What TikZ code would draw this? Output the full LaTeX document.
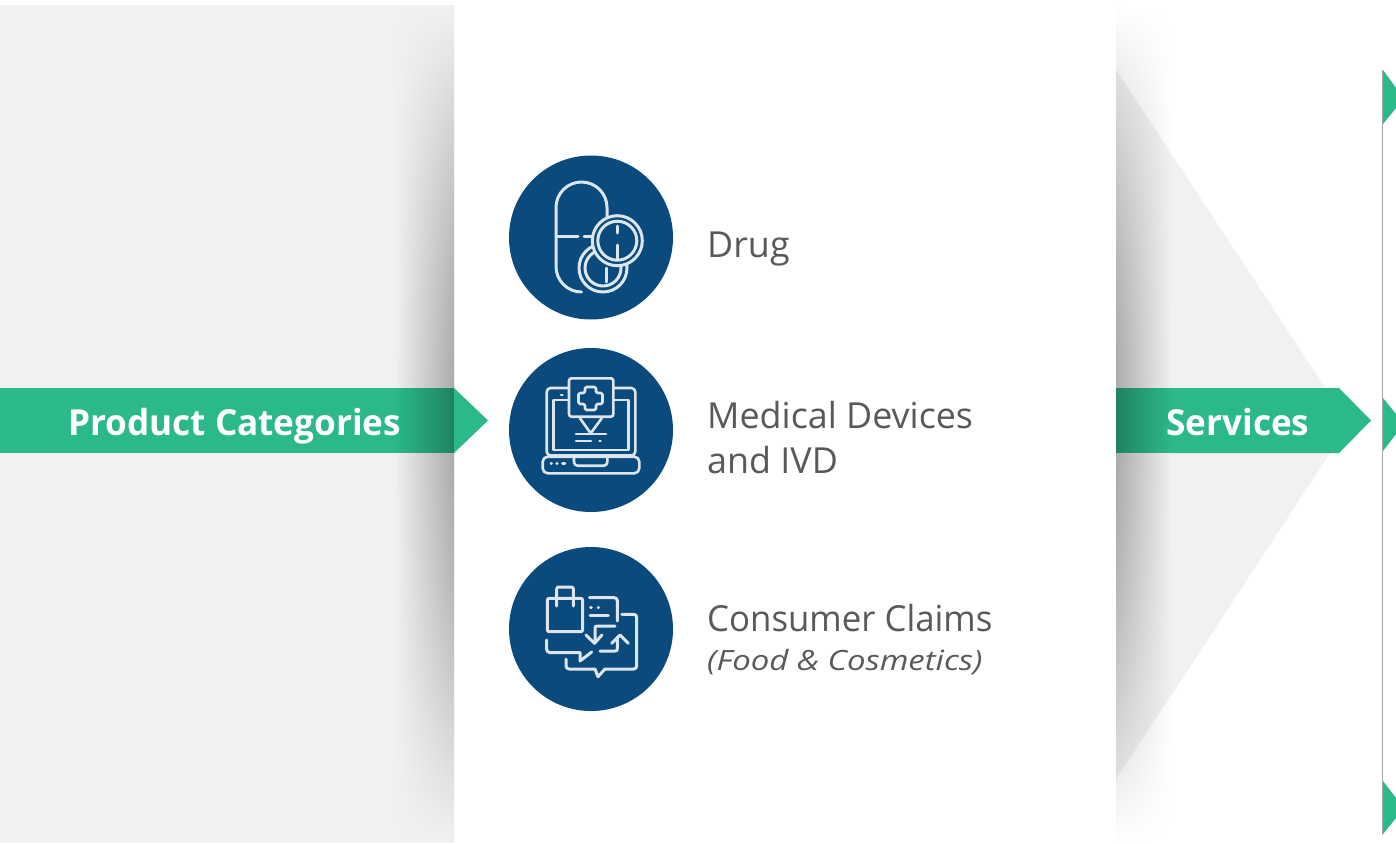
\documentclass[tikz,border=0pt]{standalone}
\usepackage{fontspec}
\setmainfont{Open Sans}
\newfontfamily\lblfont{Open Sans}
\newfontfamily\lblnarrow[FakeStretch=0.97]{Open Sans}
\newfontfamily\subfont[FakeStretch=1.18]{Open Sans}
\newfontfamily\headfont[FakeStretch=0.98,BoldFont={Open Sans Bold}]{Open Sans}
\definecolor{grn}{HTML}{2BB987}
\definecolor{navy}{HTML}{0A4A7D}
\definecolor{pale}{HTML}{F1F1F1}
\definecolor{txt}{HTML}{595959}
\definecolor{ico}{HTML}{DDE6EE}
\newcommand{\stripsL}[3]{%
  \foreach \yy in {5,7,...,839} {
    \pgfmathsetmacro\aa{29*sin((\yy-5)*0.2148)}
    \pgfmathsetmacro\pp{100-\aa}
    \pgfmathsetmacro\qq{100-\aa*0.22}
    \shade[left color=#3,middle color=#3!\qq!black,right color=#3!\pp!black] (#1,\yy) rectangle (#2,\yy+2.6);
  }}
\newcommand{\stripsR}[3]{%
  \foreach \yy in {5,7,...,839} {
    \pgfmathsetmacro\aa{29*sin((\yy-5)*0.2148)}
    \pgfmathsetmacro\pp{100-\aa}
    \pgfmathsetmacro\qq{100-\aa*0.22}
    \shade[right color=#3,middle color=#3!\qq!black,left color=#3!\pp!black] (#1,\yy) rectangle (#2,\yy+2.6);
  }}
\tikzset{
  band/.style={fill=grn,draw=none},
  disc/.style={circle,fill=navy,draw=none,minimum size=164bp,inner sep=0pt},
  lbl/.style={anchor=base west,inner sep=0pt,text=txt,font=\lblfont\fontsize{36}{44}\selectfont},
  lblb/.style={anchor=base west,inner sep=0pt,text=txt,font=\lblnarrow\fontsize{36}{44}\selectfont},
  sublbl/.style={anchor=base west,inner sep=0pt,text=txt,font=\subfont\itshape\fontsize{28}{34}\selectfont},
  head/.style={anchor=base west,inner sep=0pt,text=white,font=\headfont\bfseries\fontsize{36}{44}\selectfont},
  icon/.style={draw=ico,line width=3bp,line cap=round,line join=round},
  iconthin/.style={draw=ico,line width=2.6bp,line cap=round,line join=round},
}
\begin{document}
\begin{tikzpicture}[x=1bp,y=-1bp]
\useasboundingbox (0,0) rectangle (1396,843);
\fill[white] (0,0) rectangle (1396,843);
% left panel and its shadow
\fill[pale] (0,5) rectangle (454,843);
\stripsL{394}{454}{pale}
\fill[band] (0,388) rectangle (394.5,453);
\begin{scope}
  \clip (394,388) rectangle (454,452.5);
  \stripsL{394}{454}{grn}
\end{scope}
% right shadow on white
\stripsR{1116}{1172}{white}
% triangle
\fill[pale] (1171.5,154) -- (1349,424) -- (1171.5,695) -- cycle;
\begin{scope}
  \clip (1116,70) -- (1349,424) -- (1116,779) -- cycle;
  \stripsR{1116}{1172}{pale}
\end{scope}
% services arrow
\fill[band] (1171.5,388) -- (1339,388) -- (1371,420.5) -- (1339,453) -- (1171.5,453) -- cycle;
\begin{scope}
  \clip (1116,388) rectangle (1172,452.5);
  \stripsR{1116}{1172}{grn}
\end{scope}
% tip over white panel
\fill[band] (454,388) -- (488,420.5) -- (454,453) -- cycle;
% right rule and clipped arrows
\draw[draw=black!35,line width=1bp] (1382.5,70) -- (1382.5,835);
\fill[band] (1383,70) -- (1396,88) -- (1396,108) -- (1383,124) -- cycle;
\fill[band] (1383,398) -- (1396,414) -- (1396,434) -- (1383,451) -- cycle;
\fill[band] (1383,781) -- (1396,798) -- (1396,818) -- (1383,834) -- cycle;
% heads
\node[head] (pc) at (68,435) {Product Categories};
\node[head] (sv) at (1166,435) {Services};
% discs
\node[disc] (d1) at (591,237.5) {};
\node[disc] (d2) at (591,430) {};
\node[disc] (d3) at (591,629) {};
% icon 1: capsule
\draw[icon] (607,220) -- (607,207.5) arc[start angle=0,end angle=-180,radius=25.5] -- (556,266.5) arc[start angle=180,end angle=90,radius=25.5];
\draw[icon] (556,236) -- (578,236) (584,236) -- (592,236);
\filldraw[icon,fill=navy] (603,268) circle[radius=24];
\draw[icon] (603,268) circle[radius=18];
\draw[icon] (606,268) -- (606,282);
\filldraw[icon,fill=navy] (617.3,240.7) circle[radius=25];
\draw[icon] (617.3,240.7) circle[radius=19.5];
\draw[icon] (617.3,226) -- (617.3,233) (617.3,245) -- (617.3,259);
% icon 2: laptop
\draw[iconthin,rounded corners=4bp] (546.7,388) rectangle (635.3,455.5);
\draw[iconthin] (553.3,400) -- (628.3,400) -- (628.3,450) -- (553.3,450) -- cycle;
\filldraw[iconthin,fill=navy,rounded corners=2.5bp] (569,378.3) rectangle (613.3,416.7);
\draw[iconthin,rounded corners=1.5bp] (585,387) -- (596,387) -- (596,393) -- (602.5,393) -- (602.5,404) -- (596,404) -- (596,410) -- (585,410) -- (585,404) -- (578.5,404) -- (578.5,393) -- (585,393) -- cycle;
\draw[iconthin] (580,418.3) -- (590.7,433.3) -- (601.7,418.3);
\draw[iconthin] (576,434) -- (606,434);
\draw[iconthin] (576,441) -- (591,441) (599.5,441) -- (600.5,441);
\draw[iconthin] (561,395) -- (562.5,395);
\filldraw[iconthin,fill=navy,rounded corners=5bp] (542.7,456.7) rectangle (639.3,473.3);
\draw[iconthin,rounded corners=3.5bp] (574,456.7) -- (574,465.7) -- (607.3,465.7) -- (607.3,456.7);
\draw[iconthin] (551,463.3) -- (551.5,463.3) (556.7,463.3) -- (557.2,463.3) (562.5,463.3) -- (565,463.3);
% icon 3: bag and chats
\draw[icon,rounded corners=2bp] (547.3,598.3) rectangle (582.7,631.7);
\draw[icon,rounded corners=2bp] (556.7,606) -- (556.7,587) -- (573.3,587) -- (573.3,606);
\draw[icon,rounded corners=3bp] (589.5,597.7) -- (617.3,597.7) -- (617.3,621);
\draw[icon] (590.7,607.7) -- (591.3,607.7) (598,607.7) -- (598.6,607.7);
\draw[icon] (590,615.7) -- (608.3,615.7);
\draw[icon,rounded corners=2bp] (615,626) -- (595,626) -- (595,642);
\draw[icon] (586,635) -- (594.5,643.3) -- (602,635);
\draw[icon,rounded corners=2bp] (600,651) -- (617.3,651) -- (617.3,637);
\draw[icon] (611.7,643.3) -- (620,635) -- (628.3,643.3);
\draw[icon,rounded corners=3bp] (621.7,614.3) -- (636.7,614.3) -- (636.7,669) -- (605,669);
\draw[icon,rounded corners=3bp] (566,659) -- (566,669) -- (595,669);
\draw[icon] (595,669) -- (598,676.7) -- (605,669);
\draw[icon,rounded corners=3bp] (546.7,640) -- (546.7,652.5) -- (580,652.5);
\draw[icon] (580,652.5) -- (580,661) -- (591.7,652);
% labels
\node[lbl] (t1) at (707,257) {Drug};
\node[lbl] (t2) at (707,428.5) {Medical Devices};
\node[lbl] (t3) at (707,473.5) {and IVD};
\node[lblb] (t4) at (707,631) {Consumer Claims};
\node[sublbl] (t5) at (707,670) {(Food \& Cosmetics)};
\end{tikzpicture}
\end{document}
